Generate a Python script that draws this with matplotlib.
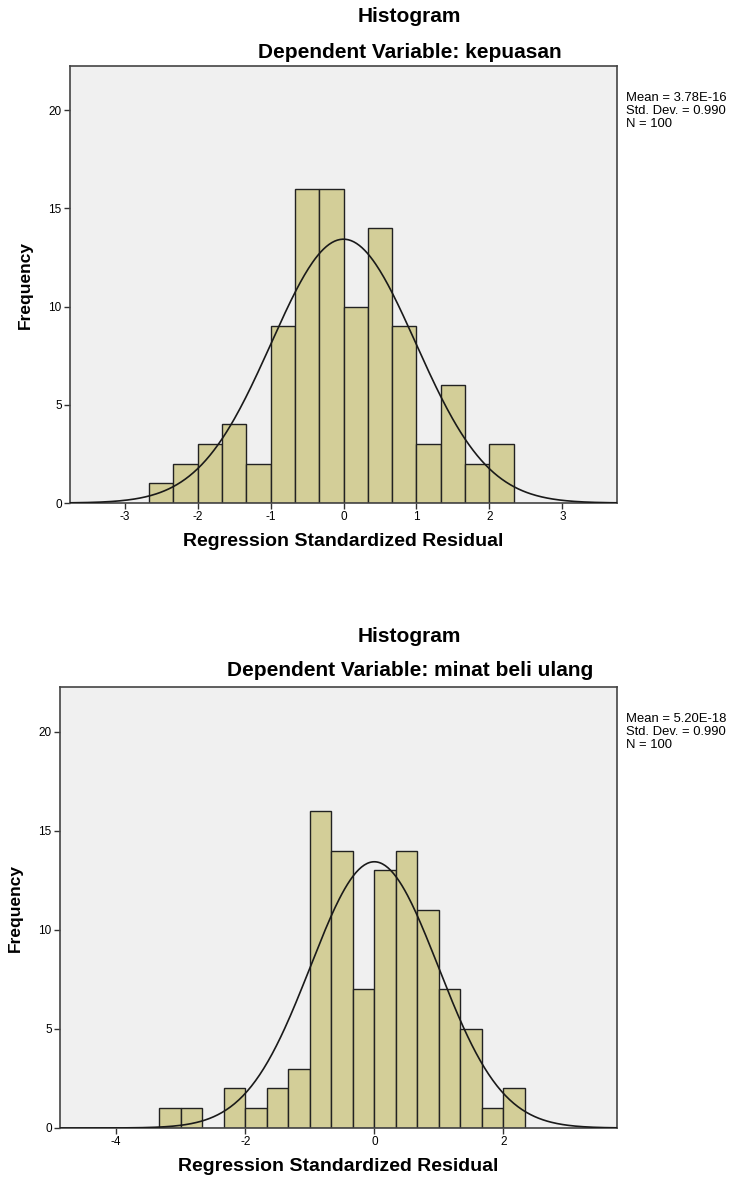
import numpy as np
import matplotlib.pyplot as plt

# bin edges are 1/3 wide in both charts
edges_top = np.arange(-8, 8) / 3.0
counts_top = [1, 2, 3, 4, 2, 9, 16, 16, 10, 14, 9, 3, 6, 2, 3]
stats_top = (3.78e-16, 0.990, 100)
title_top = "Dependent Variable: kepuasan"
xticks_top = [-3, -2, -1, 0, 1, 2, 3]

edges_bot = np.arange(-10, 8) / 3.0
counts_bot = [1, 1, 0, 2, 1, 2, 3, 16, 14, 7, 13, 14, 11, 7, 5, 1, 2]
stats_bot = (5.20e-18, 0.990, 100)
title_bot = "Dependent Variable: minat beli ulang"
xticks_bot = [-4, -2, 0, 2]

BAR = '#d3ce98'
BG = '#f0f0f0'
W, H = 751, 1183

plt.rcParams['font.family'] = ['Liberation Sans', 'DejaVu Sans']
plt.rcParams['axes.unicode_minus'] = False

fig = plt.figure(figsize=(W / 100, H / 100), dpi=100)


def px_axes(l, t, r, b):
    return fig.add_axes([l / W, 1 - b / H, (r - l) / W, (b - t) / H])


def draw(ax, edges, counts, stats, sub, xticks, xlim, title_y):
    mean, sd, n = stats
    widths = np.diff(edges)
    ax.set_facecolor(BG)
    ax.bar(edges[:-1], counts, width=widths, align='edge', color=BAR,
           edgecolor='#222222', linewidth=1.0, zorder=2)
    xs = np.linspace(xlim[0], xlim[1], 400)
    bw = widths[0]
    ys = n * bw / (sd * np.sqrt(2 * np.pi)) * np.exp(-0.5 * ((xs - mean) / sd) ** 2)
    ax.plot(xs, ys, color='#1a1a1a', lw=1.2, zorder=3)
    ax.set_xlim(*xlim)
    ax.set_ylim(0, 22.25)
    ax.set_xticks(xticks)
    ax.set_yticks([0, 5, 10, 15, 20])
    ax.tick_params(labelsize=8.5, length=4, width=1, color='#333333', pad=2)
    for s in ax.spines.values():
        s.set_color('#444444')
        s.set_linewidth(1.2)
    ax.set_xlabel('Regression Standardized Residual', fontsize=14,
                  fontweight='bold', labelpad=7)
    ax.set_ylabel('Frequency', fontsize=12.5, fontweight='bold', labelpad=11)
    fig.text(409 / W, 1 - title_y / H, 'Histogram', ha='center', va='center',
             fontsize=15, fontweight='bold')
    fig.text(410 / W, 1 - (title_y + 35) / H, sub, ha='center', va='center',
             fontsize=15, fontweight='bold')
    txt = 'Mean = %.2E\nStd. Dev. = %.3f\nN = %d' % (mean, sd, n)
    txt = txt.replace('E-0', 'E-').replace('E+0', 'E+')
    ax.text(1.016, 0.94, txt, transform=ax.transAxes, ha='left', va='top',
            fontsize=9.4, linespacing=1.08)


ax1 = px_axes(70, 66, 617, 503)
draw(ax1, edges_top, counts_top, stats_top, title_top, xticks_top,
     (-3.75, 3.75), 17)

ax2 = px_axes(60, 687, 617, 1128)
draw(ax2, edges_bot, counts_bot, stats_bot, title_bot, xticks_bot,
     (-4.87, 3.76), 636)

fig.savefig('out.png', dpi=100)
